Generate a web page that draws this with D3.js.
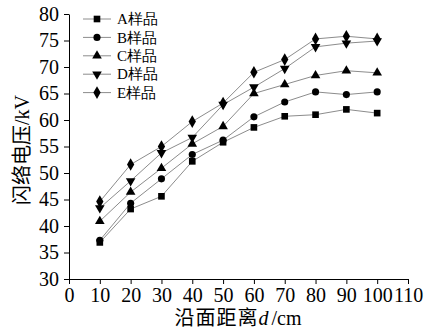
<!DOCTYPE html>
<html>
<head>
    <meta charset="utf-8">
    <script src="https://d3js.org/d3.v7.min.js"></script>
    <style type="text/css">
        body {
            margin: 0;
            background-color: white;
        }

        svg {
            display: block;
        }

        .axis path,
        .axis line {
            stroke: #000;
            stroke-width: 1;
        }

        .axis text {
            font-family: "Liberation Serif", "Times New Roman", serif;
            font-size: 20px;
            fill: #000;
        }

        .series {
            fill: none;
            stroke: #8c8c8c;
            stroke-width: 1;
        }

        .legend text {
            font-family: "Liberation Serif", serif;
            font-size: 15px;
        }
    </style>
</head>

<body>
    <svg id="main"></svg>
    <script>
        let width = 430,
            height = 331

        // data
        let distances = [10, 20, 30, 40, 50, 60, 70, 80, 90, 100]
        let sampleA = [36.9, 43.2, 45.6, 52.2, 55.8, 58.6, 60.7, 61.0, 62.0, 61.3]
        let sampleB = [37.3, 44.3, 48.9, 53.5, 56.2, 60.6, 63.4, 65.3, 64.8, 65.3]
        let sampleC = [40.9, 46.4, 50.9, 55.5, 58.8, 65.0, 66.7, 68.4, 69.3, 68.9]
        let sampleD = [43.4, 48.5, 53.8, 56.7, 62.9, 66.2, 69.7, 73.8, 74.5, 74.9]
        let sampleE = [44.6, 51.6, 55.0, 59.7, 63.2, 69.0, 71.4, 75.3, 75.8, 75.3]
        let seriesNames = ["A样品", "B样品", "C样品", "D样品", "E样品"]
        let xTicks = [0, 10, 20, 30, 40, 50, 60, 70, 80, 90, 100, 110]
        let yTicks = [30, 35, 40, 45, 50, 55, 60, 65, 70, 75, 80]

        let allSeries = [sampleA, sampleB, sampleC, sampleD, sampleE]

        let svg1 = d3.select("#main")
            .attr("width", width)
            .attr("height", height)

        let x = d3.scaleLinear().domain([0, 110]).range([69, 408])
        let y = d3.scaleLinear().domain([30, 80]).range([279, 14])

        // marker shapes, one per sample
        let shapes = [
            d3.symbol().type(d3.symbolSquare).size(44),
            d3.symbol().type(d3.symbolCircle).size(40),
            d3.symbol().type(d3.symbolTriangle).size(40),
            d3.symbol().type(d3.symbolTriangle).size(40),
            d3.symbol().type(d3.symbolDiamond).size(46)
        ]
        let rotations = [0, 0, 0, 180, 0]

        // axes
        svg1.append("g")
            .attr("class", "axis")
            .attr("transform", "translate(0,279)")
            .call(d3.axisBottom(x).tickValues(xTicks).tickSize(5).tickSizeOuter(0).tickPadding(4))

        svg1.append("g")
            .attr("class", "axis")
            .attr("transform", "translate(69,0)")
            .call(d3.axisLeft(y).tickValues(yTicks).tickSize(5).tickSizeOuter(0).tickPadding(5))

        // lines
        let line = d3.line()
            .x((d, i) => x(distances[i]))
            .y(d => y(d))

        svg1.selectAll("path.series")
            .data(allSeries)
            .enter()
            .append("path")
            .attr("class", "series")
            .attr("d", line)

        // markers
        allSeries.forEach(function (values, s) {
            svg1.append("g").selectAll("path")
                .data(values)
                .enter()
                .append("path")
                .attr("d", shapes[s])
                .attr("fill", "#000")
                .attr("transform", (d, i) => "translate(" + x(distances[i]) + "," + y(d) + ") rotate(" + rotations[s] + ")")
        })

        // legend
        let legend = svg1.append("g").attr("class", "legend")
        let rows = legend.selectAll("g")
            .data(seriesNames)
            .enter()
            .append("g")
            .attr("transform", (d, i) => "translate(0," + (19 + i * 18.4) + ")")

        rows.append("line")
            .attr("x1", 83).attr("x2", 111)
            .attr("stroke", "#8c8c8c")
            .attr("stroke-width", 1)

        rows.append("path")
            .attr("d", (d, i) => shapes[i]())
            .attr("transform", (d, i) => "translate(97,0) rotate(" + rotations[i] + ")")
            .attr("fill", "#000")

        rows.append("text")
            .attr("x", 117)
            .attr("dy", "0.35em")
            .text(d => d)

        // axis titles
        svg1.append("text")
            .attr("transform", "translate(29,150) rotate(-90)")
            .attr("text-anchor", "middle")
            .style("font-family", "'Liberation Serif', 'Noto Sans CJK SC', serif")
            .style("font-size", "20px")
            .text("闪络电压/kV")

        let xTitle = svg1.append("text")
            .attr("x", 238)
            .attr("y", 325)
            .attr("text-anchor", "middle")
            .style("font-family", "'Liberation Serif', 'Noto Sans CJK SC', serif")
            .style("font-size", "20px")
        xTitle.append("tspan").style("letter-spacing", "1px").text("沿面距离")
        xTitle.append("tspan").style("font-style", "italic").text("d")
        xTitle.append("tspan").attr("dx", 3).text("/cm")
    </script>
</body>
</html>
